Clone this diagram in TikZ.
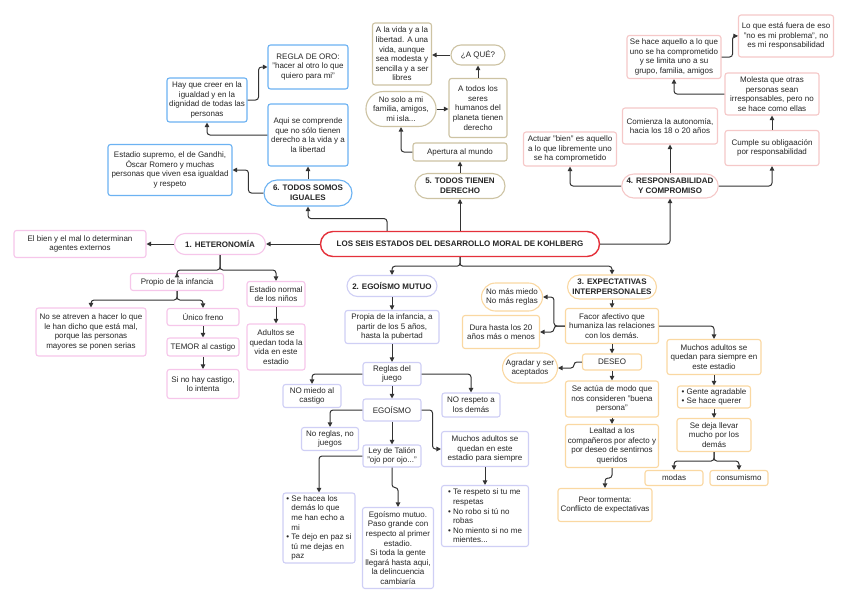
\documentclass[tikz,border=0pt]{standalone}
\usepackage{fontspec}
\setmainfont{Liberation Sans}
\usetikzlibrary{arrows.meta, shapes.misc}

\definecolor{linea}{HTML}{333333}
\definecolor{azul}{HTML}{6CB2F2}
\definecolor{arena}{HTML}{CDC3A3}
\definecolor{salmon}{HTML}{F5C8C8}
\definecolor{rosa}{HTML}{F6C6EA}
\definecolor{lila}{HTML}{CFCFF5}
\definecolor{naranja}{HTML}{FAD8A2}
\definecolor{rojo}{HTML}{E4313B}

\newcommand{\bul}{\textbullet\ }
\newcommand{\sang}{\hphantom{\textbullet\ }}

\tikzset{
  caja/.style={draw=#1, line width=1.1pt, rounded corners=2.5pt, fill=white, align=center,
    inner sep=2pt, text=black!85, font=\fontsize{8}{9.6}\selectfont},
  capsula/.style={caja=#1, sharp corners, rounded rectangle},
  estado/.style={capsula=#1, font=\fontsize{8}{9.6}\selectfont\bfseries},
  flecha/.style={-{Triangle[length=4.5pt,width=4.5pt]}, line width=1pt, draw=linea, rounded corners=3pt},
}

\begin{document}
\begin{tikzpicture}[x=1pt, y=-1pt]
        \useasboundingbox (0,0) rectangle (848,603);

        \node[estado=rojo, line width=1.4pt, minimum width=283pt, minimum height=25pt] (titulo) at (460,244)
            {LOS SEIS ESTADOS DEL DESARROLLO MORAL DE KOHLBERG};

        % 6. todos somos iguales
        \node[estado=azul, minimum width=92pt, minimum height=26pt] (n6) at (308,193) {6. TODOS SOMOS\\IGUALES};
        \node[caja=azul, minimum width=124pt, minimum height=51pt] (supremo) at (170,170)
            {Estadio supremo, el de Gandhi,\\Óscar Romero y muchas\\personas que viven esa igualdad\\y respeto};
        \node[caja=azul, minimum width=80pt, minimum height=62pt] (aqui) at (308,135)
            {Aqui se comprende\\que no sólo tienen\\derecho a la vida y a\\la libertad};
        \node[caja=azul, minimum width=80pt, minimum height=44pt] (creer) at (207,100)
            {Hay que creer en la\\igualdad y en la\\dignidad de todas las\\personas};
        \node[caja=azul, minimum width=80pt, minimum height=44pt] (oro) at (308,67)
            {REGLA DE ORO:\\"hacer al otro lo que\\quiero para mi"};

        % 5. todos tienen derecho
        \node[estado=arena, minimum width=94pt, minimum height=25pt] (n5) at (460,186) {5. TODOS TIENEN\\DERECHO};
        \node[caja=arena, minimum width=94pt, minimum height=18pt] (apertura) at (460,152) {Apertura al mundo};
        \node[capsula=arena, minimum width=63pt, minimum height=35pt] (nosolo) at (401,109)
            {No solo a mi\\familia, amigos,\\mi isla...};
        \node[caja=arena, minimum width=58pt, minimum height=59pt] (todos) at (478,108)
            {A todos los\\seres\\humanos del\\planeta tienen\\derecho};
        \node[capsula=arena, minimum width=58pt, minimum height=20pt] (aque) at (478,55) {¿A QUÉ?};
        \node[caja=arena, minimum width=59pt, minimum height=62pt] (vida) at (402,54)
            {A la vida y a la\\libertad. A una\\vida, aunque\\sea modesta y\\sencilla y a ser\\libres};

        % 4. responsabilidad y compromiso
        \node[estado=salmon, minimum width=94pt, minimum height=24pt] (n4) at (670,186) {4. RESPONSABILIDAD\\Y COMPROMISO};
        \node[caja=salmon, minimum width=93pt, minimum height=34pt] (actuar) at (570,149)
            {Actuar "bien" es aquello\\a lo que libremente uno\\se ha comprometido};
        \node[caja=salmon, minimum width=95pt, minimum height=36pt] (comienza) at (670,126)
            {Comienza la autonomía,\\hacia los 18 o 20 años};
        \node[caja=salmon, minimum width=94pt, minimum height=35pt] (cumple) at (772,148)
            {Cumple su obligaación\\por responsabilidad};
        \node[caja=salmon, minimum width=94pt, minimum height=42pt] (molesta) at (772,94)
            {Molesta que otras\\personas sean\\irresponsables, pero no\\se hace como ellas};
        \node[caja=salmon, minimum width=94pt, minimum height=43pt] (sehace) at (674,57)
            {Se hace aquello a lo que\\uno se ha comprometido\\y se limita uno a su\\grupo, familia, amigos};
        \node[caja=salmon, minimum width=95pt, minimum height=42pt] (fuera) at (786,36)
            {Lo que está fuera de eso\\"no es mi problema", no\\es mi responsabilidad};

        % 1. heteronomia
        \node[estado=rosa, minimum width=95pt, minimum height=21pt] (n1) at (220,244) {1. HETERONOMÍA};
        \node[caja=rosa, minimum width=132pt, minimum height=27pt] (bienmal) at (80,244)
            {El bien y el mal lo determinan\\agentes externos};
        \node[caja=rosa, minimum width=93pt, minimum height=17pt] (propio) at (177,282) {Propio de la infancia};
        \node[caja=rosa, minimum width=110pt, minimum height=48pt] (atreven) at (91,332)
            {No se atreven a hacer lo que\\le han dicho que está mal,\\porque las personas\\mayores se ponen serias};
        \node[caja=rosa, minimum width=72pt, minimum height=17pt] (unico) at (203,317) {Único freno};
        \node[caja=rosa, minimum width=72pt, minimum height=18pt] (temor) at (203,347) {TEMOR al castigo};
        \node[caja=rosa, minimum width=72pt, minimum height=29pt] (sino) at (203,384) {Si no hay castigo,\\lo intenta};
        \node[caja=rosa, minimum width=58pt, minimum height=25pt] (normal) at (276,294) {Estadio normal\\de los niños};
        \node[caja=rosa, minimum width=58pt, minimum height=46pt] (adultos) at (276,347)
            {Adultos se\\quedan toda la\\vida en este\\estadio};

        % 2. egoismo mutuo
        \node[estado=lila, minimum width=94pt, minimum height=21pt] (n2) at (392,286) {2. EGOÍSMO MUTUO};
        \node[caja=lila, minimum width=94pt, minimum height=33pt] (propia) at (392,327)
            {Propia de la infancia, a\\partir de los 5 años,\\hasta la pubertad};
        \node[caja=lila, minimum width=58pt, minimum height=23pt] (reglas) at (392,374) {Reglas del\\juego};
        \node[caja=lila, minimum width=58pt, minimum height=23pt] (nomiedo) at (312,396) {NO miedo al\\castigo};
        \node[caja=lila, minimum width=58pt, minimum height=24pt] (norespeto) at (471,405) {NO respeto a\\los demás};
        \node[caja=lila, minimum width=58pt, minimum height=22pt] (egoismo) at (392,410) {EGOÍSMO};
        \node[caja=lila, minimum width=57pt, minimum height=23pt] (noreglas) at (330,439) {No reglas, no\\juegos};
        \node[caja=lila, minimum width=58pt, minimum height=22pt] (talion) at (392,456) {Ley de Talión\\"ojo por ojo..."};
        \node[caja=lila, minimum width=87pt, minimum height=35pt] (muchos2) at (485,449)
            {Muchos adultos se\\quedan en este\\estadio para siempre};
        \node[caja=lila, align=left, minimum width=72pt, minimum height=70pt] (sehacea) at (319,528)
            {\bul Se hacea los\\\sang demás lo que\\\sang me han echo a\\\sang mi\\\bul Te dejo en paz si\\\sang tú me dejas en\\\sang paz};
        \node[caja=lila, minimum width=71pt, minimum height=81pt] (egomutuo) at (398,548)
            {Egoísmo mutuo.\\Paso grande con\\respecto al primer\\estadio.\\Si toda la gente\\llegará hasta aqui,\\la delincuencia\\cambiaría};
        \node[caja=lila, align=left, minimum width=87pt, minimum height=61pt] (respeto) at (485,516)
            {\bul Te respeto si tu me\\\sang respetas\\\bul No robo si tú no\\\sang robas\\\bul No miento si no me\\\sang mientes...};

        % 3. expectativas interpersonales
        \node[estado=naranja, minimum width=93pt, minimum height=24pt] (n3) at (612,287) {3. EXPECTATIVAS\\INTERPERSONALES};
        \node[caja=naranja, minimum width=93pt, minimum height=35pt] (facor) at (612,326)
            {Facor afectivo que\\humaniza las relaciones\\con los demás.};
        \node[capsula=naranja, minimum width=65pt, minimum height=28pt] (nomas) at (512,297) {No más miedo\\No más reglas};
        \node[caja=naranja, minimum width=77pt, minimum height=33pt] (dura) at (501,332) {Dura hasta los 20\\años más o menos};
        \node[caja=naranja, minimum width=59pt, minimum height=16pt] (deseo) at (612,362) {DESEO};
        \node[capsula=naranja, minimum width=59pt, minimum height=30pt] (agradar) at (530,368) {Agradar y ser\\aceptados};
        \node[caja=naranja, minimum width=93pt, minimum height=36pt] (buena) at (612,399)
            {Se actúa de modo que\\nos consideren "buena\\persona"};
        \node[caja=naranja, minimum width=93pt, minimum height=43pt] (lealtad) at (612,446)
            {Lealtad a los\\compañeros por afecto y\\por deseo de sentirnos\\queridos};
        \node[caja=naranja, minimum width=94pt, minimum height=33pt] (peor) at (605,505)
            {Peor tormenta:\\Conflicto de expectativas};
        \node[caja=naranja, minimum width=94pt, minimum height=35pt] (muchos3) at (714,357)
            {Muchos adultos se\\quedan para siempre en\\este estadio};
        \node[caja=naranja, align=left, minimum width=73pt, minimum height=22pt] (gente) at (714,397)
            {\bul Gente agradable\\\bul Se hace querer};
        \node[caja=naranja, minimum width=74pt, minimum height=33pt] (deja) at (714,435) {Se deja llevar\\mucho por los\\demás};
        \node[caja=naranja, minimum width=58pt, minimum height=15pt] (modas) at (674,478) {modas};
        \node[caja=naranja, minimum width=58pt, minimum height=15pt] (consumismo) at (739,478) {consumismo};

        % conectores del titulo
        \draw[flecha] (titulo.west) -- (n1.east);
        \draw[flecha] ([xshift=-73pt]titulo.north) |- ([yshift=-12pt]n6.south) -- (n6.south);
        \draw[flecha] (titulo.north) -- (n5.south);
        \draw[flecha] (titulo.east) -| (n4.south);
        \draw[flecha] (titulo.south) -- ++(0,9) -| (n2.north);
        \draw[flecha] (titulo.south) -- ++(0,9) -| (n3.north);

        % 6
        \draw[flecha] (n6.north) -- (aqui.south);
        \draw[flecha] (n6.west) -- ++(-15,0) |- (supremo.east);
        \draw[flecha] (aqui.west) -| (creer.south);
        \draw[flecha] (creer.east) -- ++(11,0) |- (oro.west);

        % 5
        \draw[flecha] (n5.north) -- (apertura.south);
        \draw[flecha] (apertura.west) -| (nosolo.south);
        \draw[flecha] (nosolo.east) -- (nosolo.east -| todos.west);
        \draw[flecha] (todos.north) -- (aque.south);
        \draw[flecha] (aque.west) -- (aque.west -| vida.east);

        % 4
        \draw[flecha] (n4.west) -| (actuar.south);
        \draw[flecha] (n4.north) -- (comienza.south);
        \draw[flecha] (n4.east) -| (cumple.south);
        \draw[flecha] (cumple.north) -- (molesta.south);
        \draw[flecha] (molesta.west) -| (sehace.south);
        \draw[flecha] (sehace.east) -- ++(11,0) |- (fuera.west);

        % 1
        \draw[flecha] (n1.west) -- (bienmal.east);
        \draw[flecha] (n1.south) -- ++(0,15) -| (propio.north);
        \draw[flecha] (n1.south) -- ++(0,15) -| (normal.north);
        \draw[flecha] (propio.south) -- ++(0,9) -| (atreven.north);
        \draw[flecha] (propio.south) -- ++(0,9) -| (unico.north);
        \draw[flecha] (unico.south) -- (temor.north);
        \draw[flecha] (temor.south) -- (sino.north);
        \draw[flecha] (normal.south) -- (adultos.north);

        % 2
        \draw[flecha] (n2.south) -- (propia.north);
        \draw[flecha] (propia.south) -- (reglas.north);
        \draw[flecha] (reglas.west) -| (nomiedo.north);
        \draw[flecha] (reglas.east) -| (norespeto.north);
        \draw[flecha] (reglas.south) -- (egoismo.north);
        \draw[flecha] (egoismo.west) -| (noreglas.north);
        \draw[flecha] (egoismo.south) -- (talion.north);
        \draw[flecha] (egoismo.east) -- ++(11,0) |- (muchos2.west);
        \draw[flecha] (talion.west) -| (sehacea.north);
        \draw[flecha] (talion.south) -- ++(0,20) -| (egomutuo.north);
        \draw[flecha] (muchos2.south) -- (respeto.north);

        % 3
        \draw[flecha] (n3.south) -- (facor.north);
        \draw[flecha] (facor.west) -- ++(-11,0) |- (nomas.east);
        \draw[flecha] (facor.west) -- ++(-11,0) |- (dura.east);
        \draw[flecha] (facor.south) -- (deseo.north);
        \draw[flecha] (deseo.west) -- ++(-8,0) |- (agradar.east);
        \draw[flecha] (deseo.south) -- (buena.north);
        \draw[flecha] (buena.south) -- (lealtad.north);
        \draw[flecha] (lealtad.south) -- ++(0,10) -| (peor.north);
        \draw[flecha] (facor.east) -| (muchos3.north);
        \draw[flecha] (muchos3.south) -- (gente.north);
        \draw[flecha] (gente.south) -- (deja.north);
        \draw[flecha] (deja.south) -- ++(0,9) -| (modas.north);
        \draw[flecha] (deja.south) -- ++(0,9) -| (consumismo.north);
\end{tikzpicture}
\end{document}
